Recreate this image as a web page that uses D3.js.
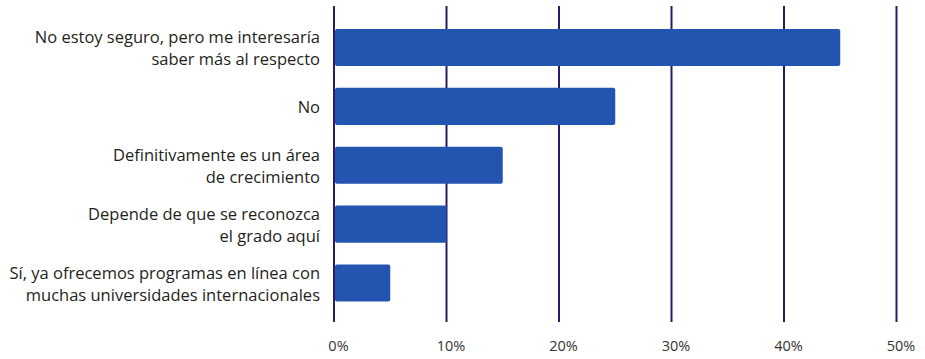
<!DOCTYPE html>
<html>
<head>
<meta charset="utf-8">
<script src="https://cdn.jsdelivr.net/npm/d3@7"></script>
<style>
  html, body { margin: 0; padding: 0; background: #ffffff; }
  svg { display: block; }
</style>
</head>
<body>
<svg id="chart" width="925" height="359"></svg>
<script>
// Survey answers (each label split into its display lines) and shares in percent
const categories = [
  ["No estoy seguro, pero me interesaría", "saber más al respecto"],
  ["No"],
  ["Definitivamente es un área", "de crecimiento"],
  ["Depende de que se reconozca", "el grado aquí"],
  ["Sí, ya ofrecemos programas en línea con", "muchas universidades internacionales"]
];
const values = [45, 25, 15, 10, 5];
const tickValues = [0, 10, 20, 30, 40, 50];

const svg = d3.select("#chart");
const keys = categories.map((c, i) => i);

const x = d3.scaleLinear().domain([0, 50]).range([334, 896.5]);
const y = d3.scaleBand()
  .domain(keys)
  .range([18, 312.5])
  .paddingInner(0.37)
  .paddingOuter(0.185);

const gridTop = 6, gridBottom = 322;

// Vertical gridlines
svg.append("g")
  .selectAll("line")
  .data(tickValues)
  .join("line")
  .attr("x1", d => x(d))
  .attr("x2", d => x(d))
  .attr("y1", gridTop)
  .attr("y2", gridBottom)
  .attr("stroke", "#2c1a64")
  .attr("stroke-width", 2);

// Bars
svg.append("g")
  .selectAll("rect")
  .data(values)
  .join("rect")
  .attr("x", x(0) + 1)
  .attr("y", (d, i) => y(i))
  .attr("width", d => x(d) - x(0) - 1)
  .attr("height", y.bandwidth())
  .attr("rx", 2)
  .attr("fill", "#2354b0");

// Category labels, right-aligned beside the axis
const lineH = 22;
const labels = svg.append("g")
  .attr("font-family", "'Open Sans', sans-serif")
  .attr("font-size", 16.5)
  .attr("fill", "#231f20")
  .attr("text-anchor", "end");

categories.forEach((lines, i) => {
  const cy = y(i) + y.bandwidth() / 2;
  const t = labels.append("text")
    .attr("x", 320)
    .attr("y", cy - (lines.length - 1) * lineH / 2)
    .attr("dominant-baseline", "central");
  lines.forEach((ln, j) => {
    t.append("tspan")
      .attr("x", 320)
      .attr("dy", j === 0 ? 0 : lineH)
      .text(ln);
  });
});

// Percent tick labels below the grid
const xAxis = d3.axisBottom(x)
  .tickValues(tickValues)
  .tickFormat(d => d + "%")
  .tickSize(0)
  .tickPadding(0);

const ax = svg.append("g")
  .attr("transform", "translate(4, 341)")
  .call(xAxis);
ax.select(".domain").remove();
ax.selectAll("text")
  .attr("font-family", "'Open Sans', sans-serif")
  .attr("font-size", 14.5)
  .attr("fill", "#333333");
</script>
</body>
</html>
